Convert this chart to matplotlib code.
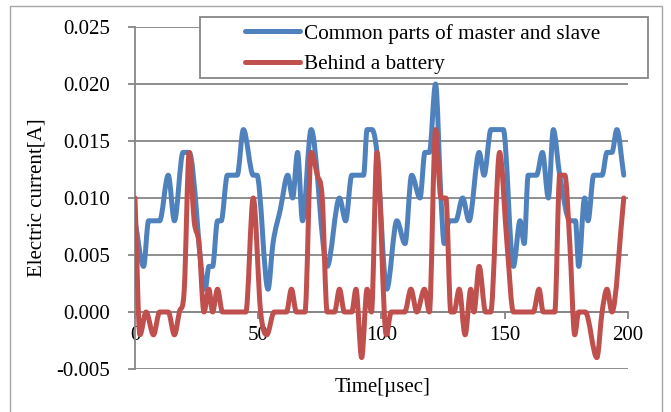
import numpy as np
import matplotlib
matplotlib.use('Agg')
import matplotlib.pyplot as plt
from matplotlib.path import Path
from matplotlib.patches import PathPatch, Rectangle
from matplotlib.lines import Line2D

# data (time in usec, current in A)
blue_t = [0, 3.5, 5.5, 10, 13.5, 16, 19.5, 22, 28.5, 30, 31.5, 33.5, 35, 37.5, 41.5, 44,
          48, 49.5, 54, 56, 59, 62, 64, 66, 68, 71.5, 78, 83, 85.5, 88, 92.8, 94.2,
          96.2, 98.2, 102.2, 106.3, 109.6, 112.3, 115.7, 117.7, 119.5, 122, 124.2,
          125.5, 127.5, 130.2, 133, 135.6, 139.7, 141.7, 144.5, 149.5, 153.6, 156.3,
          158, 159.6, 163, 165.4, 167.8, 169.8, 172.4, 176.6, 178.8, 180.1, 182.5,
          183.9, 186.2, 189.6, 191.6, 193.6, 195.6, 198.4]
blue_v = [0.008, 0.004, 0.008, 0.008, 0.012, 0.008, 0.014, 0.014, 0.002, 0.004, 0.004,
          0.008, 0.008, 0.012, 0.012, 0.016, 0.012, 0.012, 0.002, 0.006, 0.009, 0.012,
          0.010, 0.014, 0.008, 0.016, 0.004, 0.010, 0.008, 0.012, 0.012, 0.016, 0.016,
          0.014, 0.002, 0.008, 0.006, 0.012, 0.010, 0.014, 0.014, 0.020, 0.010, 0.006,
          0.008, 0.008, 0.010, 0.008, 0.014, 0.012, 0.016, 0.016, 0.004, 0.008, 0.006,
          0.012, 0.012, 0.014, 0.010, 0.016, 0.012, 0.008, 0.008, 0.004, 0.010, 0.008,
          0.012, 0.012, 0.014, 0.014, 0.016, 0.012]

red_t = [0, 2, 4.5, 7.5, 10, 13.5, 16, 18, 20, 22, 24, 26, 28, 30, 31.5, 33.5, 35.5, 45,
         48, 51, 53.5, 56.5, 61.5, 63.5, 65.5, 69, 71.5, 74, 76, 78, 81, 83, 85, 88,
         89.7, 92, 94.2, 96, 98.2, 102, 104, 109.5, 112, 114.4, 117.5, 119.5, 122,
         124.2, 126.2, 128.2, 129.5, 131.6, 134, 136.3, 137.6, 139.7, 142.3, 144.4, 148,
         151, 153.6, 161.7, 164, 165.7, 170.4, 172.4, 174.5, 176.5, 178.5, 180.1, 182.8,
         187.5, 189.6, 191.6, 193.6, 198.4]
red_v = [0.010, -0.002, 0.000, -0.002, 0.000, 0.000, -0.002, 0.000, 0.002, 0.014, 0.008,
         0.006, 0.000, 0.002, 0.000, 0.002, 0.000, 0.000, 0.010, 0.000, -0.002, 0.000,
         0.000, 0.002, 0.000, 0.000, 0.014, 0.012, 0.010, 0.000, 0.000, 0.002, 0.000,
         0.000, 0.002, -0.004, 0.002, 0.000, 0.014, -0.002, 0.000, 0.000, 0.002, 0.000,
         0.002, 0.000, 0.016, 0.010, 0.010, 0.000, 0.000, 0.002, -0.002, 0.002, 0.000,
         0.004, 0.000, 0.000, 0.014, 0.006, 0.000, 0.000, 0.002, 0.000, 0.000, 0.012,
         0.012, 0.006, -0.002, 0.000, 0.000, -0.004, 0.000, 0.002, 0.000, 0.010]

series_names = ['Common parts of master and slave', 'Behind a battery']
series_colors = ['#4F81BD', '#C0504D']
x_ticks = [0, 50, 100, 150, 200]
y_ticks = [-0.005, 0.0, 0.005, 0.010, 0.015, 0.020, 0.025]
y_tick_labels = ['-0.005', '0.000', '0.005', '0.010', '0.015', '0.020', '0.025']

W, H = 671, 412
GRAY = '#868686'

plt.rcParams['font.family'] = ['Liberation Serif', 'DejaVu Serif']
plt.rcParams['font.size'] = 15


def smooth_path(x, y):
    # smoothed line drawn as cubic Bezier segments through every point,
    # flat tangent at turning points so plateaus stay flat
    x = np.asarray(x, float)
    y = np.asarray(y, float)
    n = len(x)
    d = np.diff(y) / np.diff(x)
    m = np.zeros(n)
    m[0], m[-1] = d[0], d[-1]
    for i in range(1, n - 1):
        if d[i - 1] * d[i] > 0:
            m[i] = (d[i - 1] + d[i]) / 2
    verts = [(x[0], y[0])]
    codes = [Path.MOVETO]
    for i in range(n - 1):
        h = x[i + 1] - x[i]
        verts += [(x[i] + h / 3, y[i] + m[i] * h / 3),
                  (x[i + 1] - h / 3, y[i + 1] - m[i + 1] * h / 3),
                  (x[i + 1], y[i + 1])]
        codes += [Path.CURVE4] * 3
    return Path(verts, codes)


fig = plt.figure(figsize=(W / 100, H / 100), dpi=100)
fig.patches.append(Rectangle((10 / W, -0.1), 652 / W, 1.1 - 6 / H,
                             transform=fig.transFigure, fill=False,
                             edgecolor='#A6A6A6', lw=1.0, zorder=0))

ax = fig.add_axes([135 / W, 1 - 369 / H, 492.7 / W, 342 / H])
ax.set_xlim(0, 200)
ax.set_ylim(-0.005, 0.025)

for t, v, c in [(blue_t, blue_v, series_colors[0]), (red_t, red_v, series_colors[1])]:
    ax.add_patch(PathPatch(smooth_path(t, v), fill=False, edgecolor=c, lw=3.6,
                           capstyle='round', joinstyle='round', zorder=3))

ax.set_yticks(y_ticks)
ax.set_yticklabels(y_tick_labels)
ax.set_xticks(x_ticks)
ax.yaxis.grid(True, color=GRAY, lw=1.3)
ax.set_axisbelow(True)
for s in ['top', 'right']:
    ax.spines[s].set_visible(False)
ax.spines['left'].set_color(GRAY)
ax.spines['left'].set_linewidth(1.3)
ax.spines['bottom'].set_position(('data', 0))
ax.spines['bottom'].set_color(GRAY)
ax.spines['bottom'].set_linewidth(1.3)
ax.tick_params(axis='y', direction='out', length=5, width=1.3, color=GRAY, pad=13)
ax.tick_params(axis='x', direction='out', length=5, width=1.3, color=GRAY, pad=5)

ax.set_ylabel('Electric current[A]', va='center')
ax.yaxis.set_label_coords(-98 / 492.7, 0.5)
ax.set_xlabel('Time[\u00b5sec]', va='center')
ax.xaxis.set_label_coords(0.503, -18.5 / 342)

# legend box
fig.patches.append(Rectangle((200 / W, 1 - 78 / H), 448 / W, 61 / H,
                             transform=fig.transFigure, facecolor='white',
                             edgecolor=GRAY, lw=1.3, zorder=5))
handles = [Line2D([], [], color=c, lw=3.6, solid_capstyle='round') for c in series_colors]
leg = fig.legend(handles, series_names, loc='upper left',
                 bbox_to_anchor=(245 / W, 1 - 24 / H), frameon=False,
                 handlelength=2.6, handletextpad=0.2, borderpad=0,
                 borderaxespad=0, labelspacing=0.48, fontsize=15.3)
leg.set_zorder(6)

fig.savefig('out.png', dpi=100, facecolor='white')
